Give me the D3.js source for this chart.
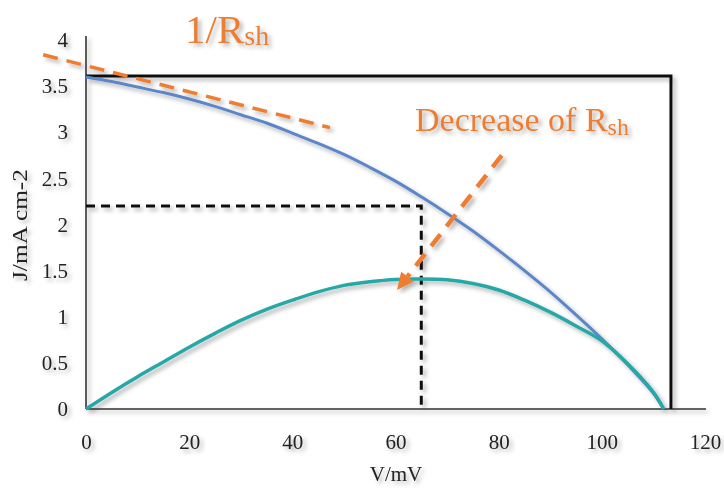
<!DOCTYPE html>
<html>
<head>
<meta charset="utf-8">
<script src="https://cdn.jsdelivr.net/npm/d3@7"></script>
<style>
  html, body { margin: 0; padding: 0; background: #fff; }
  svg { display: block; font-family: "Liberation Serif", "Times New Roman", serif; }
</style>
</head>
<body>
<svg id="chart" width="724" height="490"></svg>
<script>
// Voltage samples (mV)
const voltage = [0, 5, 10, 15, 20, 25, 30, 35, 40, 45, 50, 55, 60, 65, 70, 75, 80, 85, 90, 95, 100, 105, 110, 112];
// Current density J (mA cm-2)
const currentDensity = [3.60, 3.55, 3.49, 3.43, 3.36, 3.28, 3.19, 3.10, 2.99, 2.88, 2.76, 2.62, 2.47, 2.30, 2.12, 1.93, 1.72, 1.50, 1.27, 1.02, 0.76, 0.48, 0.17, 0];
// Power density curve
const powerDensity = [0, 0.18, 0.35, 0.51, 0.67, 0.82, 0.96, 1.08, 1.18, 1.27, 1.34, 1.38, 1.405, 1.41, 1.40, 1.36, 1.29, 1.18, 1.05, 0.90, 0.74, 0.49, 0.18, 0];

// Axis ticks
const xTicks = [0, 20, 40, 60, 80, 100, 120];
const yTicks = [0, 0.5, 1, 1.5, 2, 2.5, 3, 3.5, 4];

// Maximum power point (V, J) and the Jsc x Voc box
const maxPowerPoint = [65, 2.2];
const idealBox = [113.4, 3.61];

// Shunt-resistance slope line and "decrease" arrow (V, J endpoints)
const shuntLine = [[-8.3, 3.84], [47.3, 3.05]];
const shuntArrow = [[80.6, 2.75], [60.3, 1.29]];

const orange = "#ED7D31";
const blue = "#5B86C8";
const teal = "#27A8A6";

const svg = d3.select("#chart");

const defs = svg.append("defs");
const shadow = defs.append("filter").attr("id", "shadow")
  .attr("x", "-20%").attr("y", "-20%").attr("width", "140%").attr("height", "140%");
shadow.append("feDropShadow")
  .attr("dx", 3).attr("dy", 3).attr("stdDeviation", 2.2)
  .attr("flood-color", "#000").attr("flood-opacity", 0.3);

const x = d3.scaleLinear().domain([0, 120]).range([86, 705]);
const y = d3.scaleLinear().domain([0, 4]).range([409, 40]);

const g = svg.append("g").attr("filter", "url(#shadow)");

// Axes
const xAxis = d3.axisBottom(x).tickValues(xTicks).tickSize(0).tickSizeOuter(0).tickPadding(25)
  .tickFormat(d3.format("d"));
const gx = g.append("g").attr("transform", `translate(0,${y(0)})`).call(xAxis);
gx.select(".domain").attr("stroke", "#333").attr("stroke-width", 1.6).attr("d", `M${x(0)},0H706`);
gx.selectAll("text").attr("font-size", 21).attr("fill", "#222")
  .attr("font-family", "Liberation Serif, Times New Roman, serif");

const yAxis = d3.axisLeft(y).tickValues(yTicks).tickSize(0).tickSizeOuter(0).tickPadding(18)
  .tickFormat(d => d3.format("")(d));
const gy = g.append("g").attr("transform", `translate(${x(0)},0)`).call(yAxis);
gy.select(".domain").attr("stroke", "#333").attr("stroke-width", 1.6).attr("d", `M0,${y(0)}V36`);
gy.selectAll("text").attr("font-size", 21).attr("fill", "#222")
  .attr("font-family", "Liberation Serif, Times New Roman, serif");

// Axis titles
g.append("text").attr("x", 396).attr("y", 481).attr("text-anchor", "middle")
  .attr("font-size", 21).attr("fill", "#222").text("V/mV");
g.append("text").attr("transform", `translate(27,225) rotate(-90)`).attr("text-anchor", "middle")
  .attr("font-size", 21).attr("fill", "#222")
  .attr("textLength", 112).attr("lengthAdjust", "spacingAndGlyphs").text("J/mA cm-2");

// Jsc x Voc box
g.append("path")
  .attr("d", `M${x(0)},${y(idealBox[1])}H${x(idealBox[0])}V${y(0)}`)
  .attr("fill", "none").attr("stroke", "#111").attr("stroke-width", 3);

// Maximum power rectangle (dashed)
g.append("path")
  .attr("d", `M${x(0)},${y(maxPowerPoint[1])}H${x(maxPowerPoint[0])}V${y(0)}`)
  .attr("fill", "none").attr("stroke", "#111").attr("stroke-width", 3)
  .attr("stroke-dasharray", "9,6");

const line = d3.line().curve(d3.curveCatmullRom.alpha(0.5));

// J-V curve
g.append("path")
  .attr("d", line(voltage.map((v, i) => [x(v), y(currentDensity[i])])))
  .attr("fill", "none").attr("stroke", blue).attr("stroke-width", 3);

// Power curve
g.append("path")
  .attr("d", line(voltage.map((v, i) => [x(v), y(powerDensity[i])])))
  .attr("fill", "none").attr("stroke", teal).attr("stroke-width", 3.5);

// 1/Rsh slope line
g.append("path")
  .attr("d", d3.line()(shuntLine.map(p => [x(p[0]), y(p[1])])))
  .attr("fill", "none").attr("stroke", orange).attr("stroke-width", 3.5)
  .attr("stroke-dasharray", "15,9");

// Decrease of Rsh arrow
const a0 = [x(shuntArrow[0][0]), y(shuntArrow[0][1])];
const a1 = [x(shuntArrow[1][0]), y(shuntArrow[1][1])];
const ang = Math.atan2(a1[1] - a0[1], a1[0] - a0[0]);
const headLen = 17, headHalf = 8;
const base = [a1[0] - headLen * Math.cos(ang), a1[1] - headLen * Math.sin(ang)];
g.append("path")
  .attr("d", d3.line()([a0, base]))
  .attr("fill", "none").attr("stroke", orange).attr("stroke-width", 4.5)
  .attr("stroke-dasharray", "15,10");
g.append("path")
  .attr("d", d3.line()([
    a1,
    [base[0] + headHalf * Math.sin(ang), base[1] - headHalf * Math.cos(ang)],
    [base[0] - headHalf * Math.sin(ang), base[1] + headHalf * Math.cos(ang)]
  ]) + "Z")
  .attr("fill", orange);

// Annotations
const t1 = g.append("text").attr("x", 185).attr("y", 43).attr("fill", orange).attr("font-size", 41);
t1.append("tspan").text("1/R");
t1.append("tspan").attr("font-size", 28).attr("dy", 2).text("sh");

const t2 = g.append("text").attr("x", 415).attr("y", 131).attr("fill", orange).attr("font-size", 34);
t2.append("tspan").text("Decrease of R");
t2.append("tspan").attr("font-size", 24).attr("dy", 4).text("sh");
</script>
</body>
</html>
